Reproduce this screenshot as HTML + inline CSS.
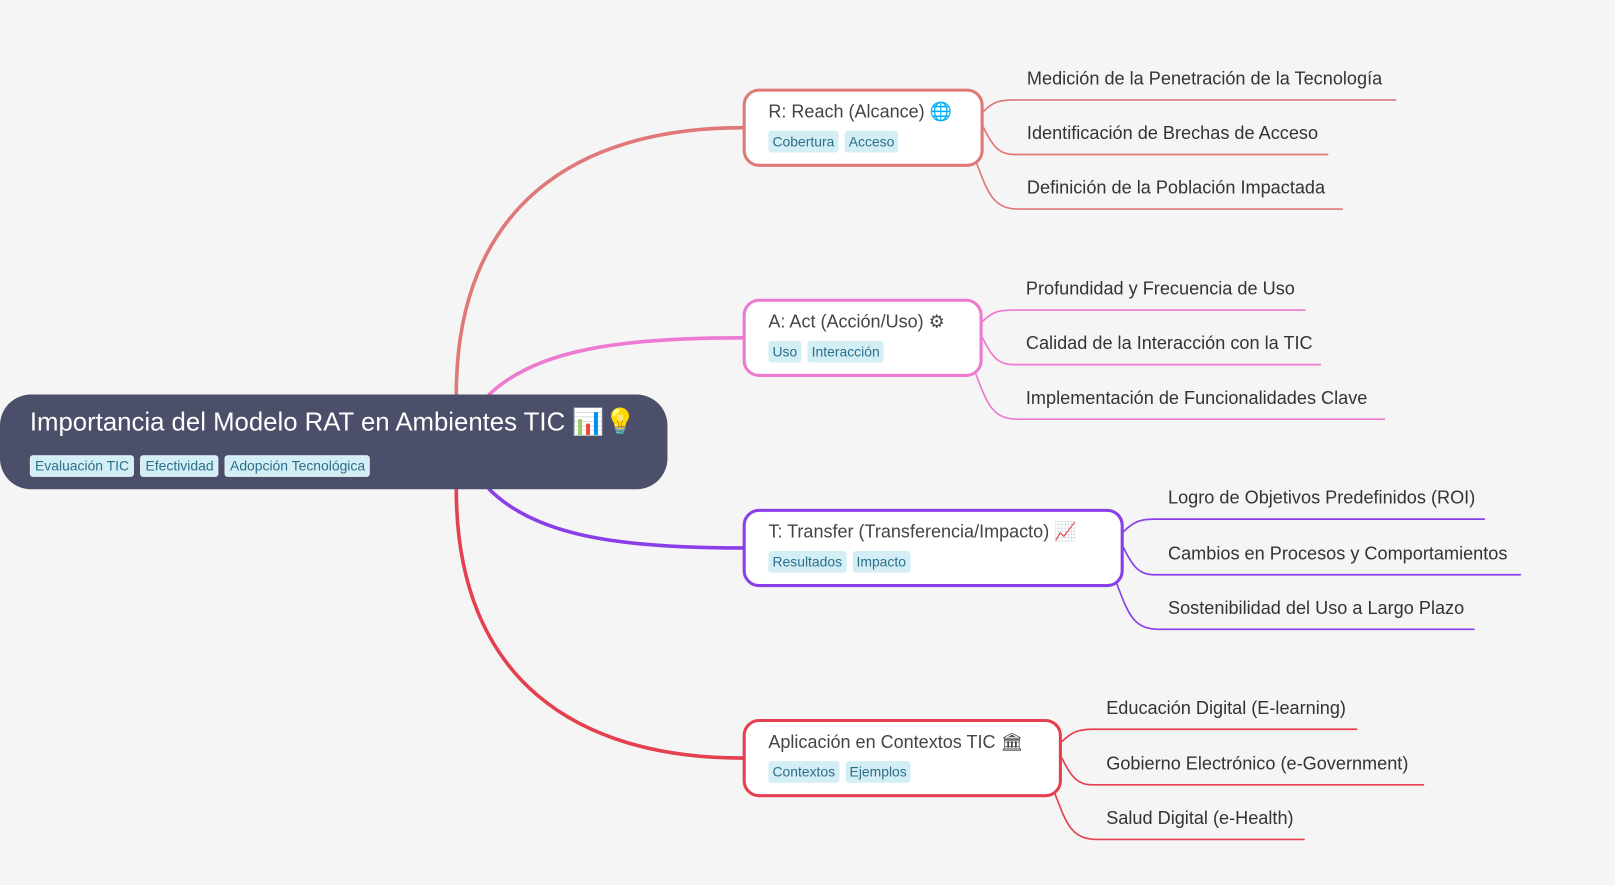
<!DOCTYPE html>
<html><head><meta charset="utf-8"><style>
html,body{margin:0;padding:0;background:#f5f5f5;width:1615px;height:885px;overflow:hidden}
#w{position:absolute;left:0;top:0;width:1568px;height:859px;transform:scale(1.03);transform-origin:0 0;font-family:"Liberation Sans","DejaVu Sans",sans-serif}
.root{position:absolute;left:0;top:383px;width:648px;height:92px;background:#4b4f6a;border-radius:30px}
.root .t{position:absolute;left:29px;top:13px;font-size:25px;color:#fff;white-space:nowrap}
.tags{position:absolute;white-space:nowrap;display:flex;gap:6px}
.tag{background:#d4eef5;color:#2a6f8a;font-size:13.5px;line-height:21px;height:21px;padding:0 4px;border-radius:3px}
.root .tag{border:1px solid #e8f6fa;line-height:19px;height:19px}
.node{position:absolute;background:#fff;border:3px solid;border-radius:16px;box-sizing:border-box;height:76px}
.node .t{position:absolute;left:22px;top:9px;font-size:17.5px;color:#444;white-space:nowrap}
.node .tags{left:22px;top:38px}
.leaf{position:absolute;font-size:17.6px;color:#333;white-space:nowrap;line-height:22px}
svg{position:absolute;left:0;top:0}
</style></head><body><div id="w">
<svg width="1568" height="859" fill="none" stroke-linecap="round">
<path d="M443,383 C443,200 560,124 721,124" stroke="#e07878" stroke-width="3.5"/>
<path d="M475,383 C520,340 600,328 721,328" stroke="#ec7ad0" stroke-width="3.5"/>
<path d="M475,475 C520,520 600,532 721,532" stroke="#8a3ee8" stroke-width="3.5"/>
<path d="M443,475 C443,660 560,736 721,736" stroke="#e5404f" stroke-width="3.5"/>
<g stroke="#e07878" stroke-width="1.6">
<path d="M955,108 C965,98 972,97 985,97 L1355,97"/><path d="M955,124 C965,145 972,150 985,150 L1289,150"/><path d="M948,158 C960,190 965,203 990,203 L1303,203"/></g>
<g stroke="#ec7ad0" stroke-width="1.6">
<path d="M954,312 C964,302 971,301 984,301 L1267,301"/><path d="M954,328 C964,349 971,354 984,354 L1282,354"/><path d="M947,362 C959,394 964,407 989,407 L1344,407"/></g>
<g stroke="#8a3ee8" stroke-width="1.6">
<path d="M1091,516 C1101,506 1108,504 1121,504 L1441,504"/><path d="M1091,532 C1101,553 1108,558 1121,558 L1476,558"/><path d="M1084,566 C1096,598 1101,611 1126,611 L1431,611"/></g>
<g stroke="#e5404f" stroke-width="1.6">
<path d="M1031,720 C1041,710 1048,708 1061,708 L1317,708"/><path d="M1031,736 C1041,757 1048,762 1061,762 L1382,762"/><path d="M1024,770 C1036,802 1041,815 1066,815 L1266,815"/></g>
</svg>
<div class="root"><div class="t">Importancia del Modelo RAT en Ambientes TIC 📊💡</div>
<div class="tags" style="left:29px;top:59px"><span class="tag">Evaluación TIC</span><span class="tag">Efectividad</span><span class="tag">Adopción Tecnológica</span></div></div>

<div class="node" style="left:721px;top:86px;width:234px;border-color:#e07878"><div class="t">R: Reach (Alcance) 🌐</div><div class="tags"><span class="tag">Cobertura</span><span class="tag">Acceso</span></div></div>
<div class="node" style="left:721px;top:290px;width:233px;border-color:#ec7ad0"><div class="t">A: Act (Acción/Uso) ⚙</div><div class="tags"><span class="tag">Uso</span><span class="tag">Interacción</span></div></div>
<div class="node" style="left:721px;top:494px;width:370px;border-color:#8a3ee8"><div class="t">T: Transfer (Transferencia/Impacto) 📈</div><div class="tags"><span class="tag">Resultados</span><span class="tag">Impacto</span></div></div>
<div class="node" style="left:721px;top:698px;width:310px;border-color:#e5404f"><div class="t">Aplicación en Contextos TIC 🏛</div><div class="tags"><span class="tag">Contextos</span><span class="tag">Ejemplos</span></div></div>

<div class="leaf" style="left:997px;top:65px">Medición de la Penetración de la Tecnología</div>
<div class="leaf" style="left:997px;top:118px">Identificación de Brechas de Acceso</div>
<div class="leaf" style="left:997px;top:171px">Definición de la Población Impactada</div>
<div class="leaf" style="left:996px;top:269px">Profundidad y Frecuencia de Uso</div>
<div class="leaf" style="left:996px;top:322px">Calidad de la Interacción con la TIC</div>
<div class="leaf" style="left:996px;top:375px">Implementación de Funcionalidades Clave</div>
<div class="leaf" style="left:1134px;top:472px">Logro de Objetivos Predefinidos (ROI)</div>
<div class="leaf" style="left:1134px;top:526px">Cambios en Procesos y Comportamientos</div>
<div class="leaf" style="left:1134px;top:579px">Sostenibilidad del Uso a Largo Plazo</div>
<div class="leaf" style="left:1074px;top:676px">Educación Digital (E-learning)</div>
<div class="leaf" style="left:1074px;top:730px">Gobierno Electrónico (e-Government)</div>
<div class="leaf" style="left:1074px;top:783px">Salud Digital (e-Health)</div>
</div></body></html>
